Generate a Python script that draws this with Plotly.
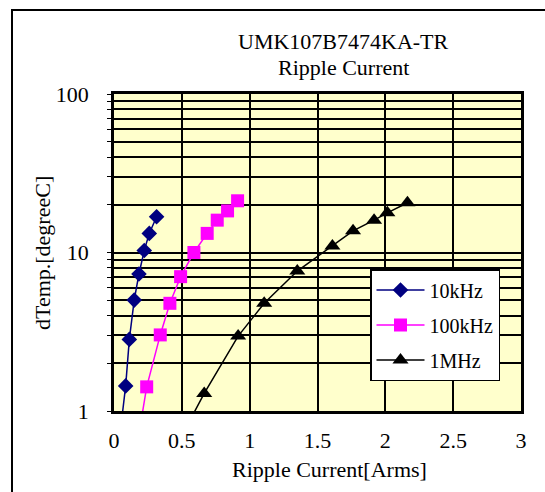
import plotly.graph_objects as go

# ---- data ----
x_10k = [0.043, 0.086, 0.113, 0.149, 0.184, 0.223, 0.260, 0.314]
y_10k = [0.70, 1.44, 2.83, 5.01, 7.32, 10.3, 13.2, 16.8]

x_100k = [0.182, 0.241, 0.341, 0.412, 0.491, 0.589, 0.687, 0.761, 0.837, 0.911]
y_100k = [0.70, 1.42, 3.02, 4.78, 7.04, 10.0, 13.2, 16.0, 18.3, 21.2]

x_1M = [0.50, 0.665, 0.915, 1.107, 1.351, 1.610, 1.762, 1.917, 2.015, 2.163]
y_1M = [0.70, 1.29, 2.97, 4.78, 7.64, 11.0, 13.7, 16.0, 17.8, 20.6]

series_names = ["10kHz", "100kHz", "1MHz"]
x_ticks = [0, 0.5, 1, 1.5, 2, 2.5, 3]
x_ticktext = ["0", "0.5", "1", "1.5", "2", "2.5", "3"]
y_major = [1, 10, 100]
y_major_text = ["1", "10", "100"]

title_lines = ["UMK107B7474KA-TR", "Ripple Current"]
x_title = "Ripple Current[Arms]"
y_title = "dTemp.[degreeC]"

FONT = "Liberation Serif"

# log-axis grid positions (1..9 per decade) with labels only on decades
y_tickvals = []
y_ticktext = []
for dec in [1, 10]:
    for m in range(1, 10):
        v = dec * m
        y_tickvals.append(v)
        y_ticktext.append(y_major_text[y_major.index(v)] if v in y_major else "")
y_tickvals.append(100)
y_ticktext.append("100")

fig = go.Figure()
fig.add_trace(go.Scatter(
    x=x_10k, y=y_10k, name=series_names[0], mode="lines+markers",
    line=dict(color="#000080", width=1.5),
    marker=dict(symbol="diamond", size=12, color="#000080"),
    legendgroup="a"))
fig.add_trace(go.Scatter(
    x=x_100k, y=y_100k, name=series_names[1], mode="lines+markers",
    line=dict(color="#FF00FF", width=1.5),
    marker=dict(symbol="square", size=13, color="#FF00FF"),
    legendgroup="b"))
fig.add_trace(go.Scatter(
    x=x_1M, y=y_1M, name=series_names[2], mode="lines+markers",
    line=dict(color="#000000", width=1.5),
    marker=dict(symbol="triangle-up", size=14, color="#000000"),
    legendgroup="c"))

L, R, T, B = 114, 24, 94, 81
W, H = 545, 492
pw, ph = W - L - R, H - T - B

def px2x(px):
    return (px - L) / pw

def px2y(py):
    return (H - B - py) / ph

fig.update_layout(
    width=W, height=H,
    margin=dict(l=L, r=R, t=T, b=B, pad=0),
    paper_bgcolor="white",
    plot_bgcolor="#FFFFCC",
    font=dict(family=FONT, size=22, color="black"),
    showlegend=True,
    legend=dict(
        x=px2x(370), y=px2y(269), xanchor="left", yanchor="top",
        bgcolor="white", bordercolor="black", borderwidth=1.5,
        font=dict(family=FONT, size=20, color="black"),
        tracegroupgap=6, itemwidth=48,
    ),
)

fig.update_xaxes(
    range=[0, 3], tickvals=x_ticks, ticktext=x_ticktext,
    showgrid=True, gridcolor="black", gridwidth=2,
    showline=True, linecolor="black", linewidth=2.5, mirror=True,
    ticks="", ticklabelstandoff=8, zeroline=False,
    tickfont=dict(family=FONT, size=22, color="black"),
)
fig.update_yaxes(
    type="log", range=[0, 2], tickvals=y_tickvals, ticktext=y_ticktext,
    showgrid=True, gridcolor="black", gridwidth=2,
    showline=True, linecolor="black", linewidth=2.5, mirror=True,
    ticks="outside", ticklen=4, tickcolor="black", tickwidth=1,
    ticklabelstandoff=14, zeroline=False,
    tickfont=dict(family=FONT, size=22, color="black"),
)

# chart title (two lines)
for txt, py in zip(title_lines, [42, 67]):
    fig.add_annotation(
        text=txt, xref="paper", yref="paper",
        x=px2x(343), y=px2y(py), xanchor="center", yanchor="middle",
        showarrow=False, font=dict(family=FONT, size=22, color="black"))

fig.add_annotation(
    text=x_title, xref="paper", yref="paper",
    x=px2x(329), y=px2y(469), xanchor="center", yanchor="middle",
    showarrow=False, font=dict(family=FONT, size=22, color="black"))
fig.add_annotation(
    text=y_title, xref="paper", yref="paper",
    x=px2x(42), y=px2y(253), xanchor="center", yanchor="middle",
    textangle=-90, showarrow=False,
    font=dict(family=FONT, size=22, color="black"))

# outer chart-area frame (extends past the right and bottom of the view)
fig.add_shape(
    type="rect", xref="paper", yref="paper",
    x0=px2x(12), y0=px2y(520), x1=px2x(570), y1=px2y(10),
    line=dict(color="black", width=2), fillcolor="rgba(0,0,0,0)", layer="below")

fig.write_html("out.html", config={"displayModeBar": False},
               post_script="document.body.style.margin='0';")
